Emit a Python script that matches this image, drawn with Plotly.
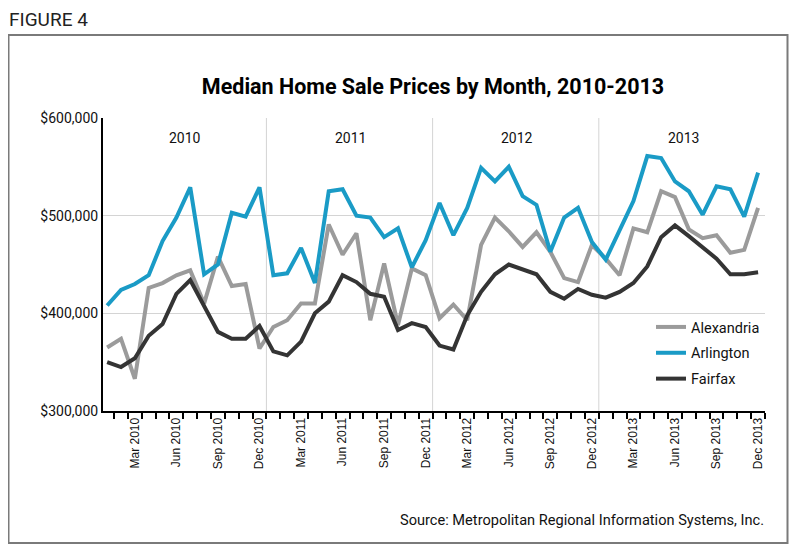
import plotly.graph_objects as go

# ---- data (thousands of dollars), Jan 2010 .. Dec 2013 ----
years = ["2010", "2011", "2012", "2013"]
month_names = ["Jan", "Feb", "Mar", "Apr", "May", "Jun",
               "Jul", "Aug", "Sep", "Oct", "Nov", "Dec"]
months = [f"{m} {y}" for y in years for m in month_names]

alexandria = [365, 374, 333, 426, 431, 439, 444, 410, 458, 428, 430, 364,
              386, 393, 410, 410, 491, 460, 482, 393, 451, 388, 446, 439,
              395, 409, 393, 470, 498, 484, 468, 483, 463, 436, 432, 470,
              456, 439, 487, 483, 525, 519, 486, 477, 480, 462, 465, 508]
arlington = [408, 424, 430, 439, 474, 498, 529, 440, 450, 503, 499, 529,
             439, 441, 467, 431, 525, 527, 500, 498, 478, 487, 447, 475,
             513, 480, 508, 549, 535, 550, 520, 511, 463, 498, 508, 473,
             455, 486, 515, 561, 559, 535, 525, 501, 530, 527, 499, 544]
fairfax = [350, 345, 354, 377, 389, 420, 434, 408, 381, 374, 374, 387,
           361, 357, 371, 400, 412, 439, 432, 420, 417, 383, 390, 386,
           367, 363, 398, 422, 440, 450, 445, 440, 422, 415, 425, 419,
           416, 422, 431, 448, 478, 490, 479, 468, 456, 440, 440, 442]

tick_labels = ["Mar 2010", "Jun 2010", "Sep 2010", "Dec 2010",
               "Mar 2011", "Jun 2011", "Sep 2011", "Dec 2011",
               "Mar 2012", "Jun 2012", "Sep 2012", "Dec 2012",
               "Mar 2013", "Jun 2013", "Sep 2013", "Dec 2013"]
y_ticks = [300000, 400000, 500000, 600000]

series = [("Alexandria", alexandria, "#9b9b9b"),
          ("Arlington", arlington, "#1a9bc6"),
          ("Fairfax", fairfax, "#343434")]

NARROW = "Roboto, Liberation Sans, sans-serif"
REG = "Liberation Sans, Arial, sans-serif"

idx = list(range(len(months)))
fig = go.Figure()
for name, vals, col in series:
    fig.add_trace(go.Scatter(
        x=idx, y=[v * 1000 for v in vals], name=name, mode="lines",
        legendgroup=name,
        line=dict(color=col, width=4), text=months,
        hovertemplate="%{text}: $%{y:,.0f}<extra>" + name + "</extra>"))

tick_idx = [months.index(t) for t in tick_labels]

# page offset of the figure (default body margin)
OFF = 8
# plot area in page px: left 103, right 765, top 118, bottom 411
W, H = 800 - OFF, 555 - OFF
L, R, T, B = 103 - OFF, 765 - OFF, 118 - OFF, 411 - OFF
def px_x(p):  # page px -> paper x
    return (p - OFF - L) / (R - L)
def px_y(p):  # page px -> paper y
    return (B - (p - OFF)) / (B - T)

shapes = []
# year separators
for k in range(1, len(years)):
    shapes.append(dict(type="line", xref="x", yref="paper",
                       x0=12 * k - 0.5, x1=12 * k - 0.5, y0=0, y1=1,
                       line=dict(color="#d4d4d4", width=1), layer="below"))
# outer frame
shapes.append(dict(type="rect", xref="paper", yref="paper",
                   x0=px_x(8.5), x1=px_x(787.5), y0=px_y(543), y1=px_y(35),
                   line=dict(color="#7a7a7a", width=2)))

annotations = []
for k, y in enumerate(years):
    annotations.append(dict(x=12 * k + 5.6, y=px_y(128), xref="x", yref="paper",
                            text=y, showarrow=False,
                            font=dict(family=NARROW, size=14, color="#111")))
annotations.append(dict(x=px_x(7), y=px_y(19), xref="paper", yref="paper",
                        xanchor="left", yanchor="middle", text="FIGURE 4",
                        showarrow=False,
                        font=dict(family=NARROW, size=19, color="#222")))
annotations.append(dict(x=px_x(766), y=px_y(520), xref="paper", yref="paper",
                        xanchor="right", yanchor="middle",
                        text="Source: Metropolitan Regional Information Systems, Inc.",
                        showarrow=False,
                        font=dict(family=NARROW, size=14.6, color="#111")))

fig.update_layout(
    width=W, height=H,
    margin=dict(l=L, r=W - R, t=T, b=H - B, autoexpand=False),
    paper_bgcolor="white", plot_bgcolor="white",
    title=dict(text="<b>Median Home Sale Prices by Month, 2010-2013</b>",
               x=(433 - OFF) / W, xanchor="center", xref="container",
               y=1 - (86 - OFF) / H, yanchor="middle", yref="container",
               font=dict(family=NARROW, size=21.5, color="#000")),
    xaxis=dict(range=[-0.3, 47.5], showgrid=False, zeroline=False,
               automargin=False,
               showline=True, linecolor="#000", linewidth=2,
               tickmode="array", tickvals=tick_idx, ticktext=tick_labels,
               tickangle=-90, ticks="", ticklen=0,
               tickfont=dict(family=REG, size=12, color="#111"),
               minor=dict(tickmode="linear", tick0=0.5, dtick=1,
                          ticks="outside", ticklen=6, tickwidth=1.5,
                          tickcolor="#000", showgrid=False)),
    yaxis=dict(range=[300000, 600000], tickmode="array", tickvals=y_ticks,
               automargin=False,
               tickformat="$,.0f", showgrid=True, gridcolor="#d4d4d4",
               gridwidth=1, zeroline=False, showline=True, linecolor="#000",
               linewidth=2, ticks="", ticklen=0,
               tickfont=dict(family=NARROW, size=14, color="#111")),
    legend=dict(x=px_x(651), y=px_y(311), xanchor="left", yanchor="top",
                bgcolor="rgba(0,0,0,0)", tracegroupgap=4,
                font=dict(family=NARROW, size=14.5, color="#111")),
    shapes=shapes, annotations=annotations,
    showlegend=True,
)

fig.write_html("out.html")
